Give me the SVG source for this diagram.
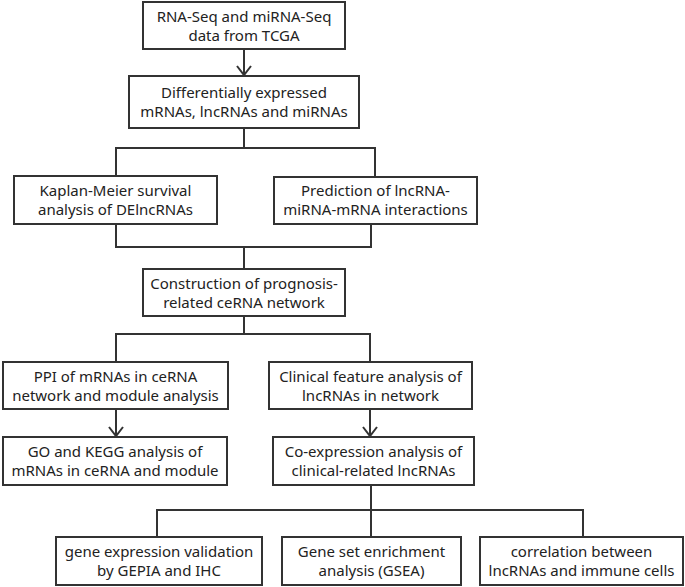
<svg xmlns="http://www.w3.org/2000/svg" width="685" height="587" viewBox="0 0 685 587">
<defs>
<style>
rect.b{fill:#fff;stroke:#333;stroke-width:2}
text{font-family:"Noto Sans","Open Sans","Liberation Sans",sans-serif;font-size:15px;fill:#222;text-anchor:middle}
.c{fill:none;stroke:#333;stroke-width:2}
</style>
<marker id="arr" markerWidth="12" markerHeight="16" refX="10" refY="8" viewBox="0 0 12 16" markerUnits="userSpaceOnUse" orient="auto">
<path d="M1,1 L10,8 L1,15" fill="none" stroke="#333" stroke-width="2"/>
</marker>
</defs>
<rect width="685" height="587" fill="#fff"/>
<g id="connectors">
<path class="c" d="M244,49 V75" marker-end="url(#arr)"/>
<path class="c" d="M244,128 V148 M116,148 H375 M116,147 V176 M375,147 V177"/>
<path class="c" d="M116,224 V247 M371,224 V247 M115,247 H372 M244,247 V269"/>
<path class="c" d="M244,316 V334 M115,334 H371 M116,334 V362 M370,334 V362"/>
<path class="c" d="M116,409 V436" marker-end="url(#arr)"/>
<path class="c" d="M370,409 V436" marker-end="url(#arr)"/>
<path class="c" d="M371,485 V510 M156,510 H584 M157,510 V537 M371,510 V537 M583,510 V537"/>
</g>
<g id="n1"><rect class="b" x="143" y="2" width="202" height="47"/><text x="244" y="22">RNA-Seq and miRNA-Seq</text><text x="244" y="41">data from TCGA</text></g>
<g id="n2"><rect class="b" x="129" y="76" width="230" height="52"/><text x="244" y="98">Differentially expressed</text><text x="244" y="117">mRNAs, lncRNAs and miRNAs</text></g>
<g id="n3"><rect class="b" x="14" y="176" width="203" height="48"/><text x="115.5" y="196">Kaplan-Meier survival</text><text x="115.5" y="215">analysis of DElncRNAs</text></g>
<g id="n4"><rect class="b" x="274" y="177" width="203" height="47"/><text x="375.5" y="196">Prediction of lncRNA-</text><text x="375.5" y="215">miRNA-mRNA interactions</text></g>
<g id="n5"><rect class="b" x="143" y="269" width="202" height="47"/><text x="244" y="289">Construction of prognosis-</text><text x="244" y="308">related ceRNA network</text></g>
<g id="n6"><rect class="b" x="3" y="362" width="225" height="47"/><text x="115.5" y="382">PPI of mRNAs in ceRNA</text><text x="115.5" y="401">network and module analysis</text></g>
<g id="n7"><rect class="b" x="269" y="362" width="203" height="47"/><text x="370.5" y="382">Clinical feature analysis of</text><text x="370.5" y="401">lncRNAs in network</text></g>
<g id="n8"><rect class="b" x="3" y="437" width="224" height="48"/><text x="115" y="457">GO and KEGG analysis of</text><text x="115" y="476">mRNAs in ceRNA and module</text></g>
<g id="n9"><rect class="b" x="273" y="437" width="201" height="48"/><text x="373.5" y="457">Co-expression analysis of</text><text x="373.5" y="476">clinical-related lncRNAs</text></g>
<g id="n10"><rect class="b" x="56" y="537" width="206" height="48"/><text x="159" y="557">gene expression validation</text><text x="159" y="576">by GEPIA and IHC</text></g>
<g id="n11"><rect class="b" x="282" y="537" width="179" height="48"/><text x="371.5" y="557">Gene set enrichment</text><text x="371.5" y="576">analysis (GSEA)</text></g>
<g id="n12"><rect class="b" x="480" y="537" width="203" height="48"/><text x="581.5" y="557">correlation between</text><text x="581.5" y="576">lncRNAs and immune cells</text></g>
</svg>
